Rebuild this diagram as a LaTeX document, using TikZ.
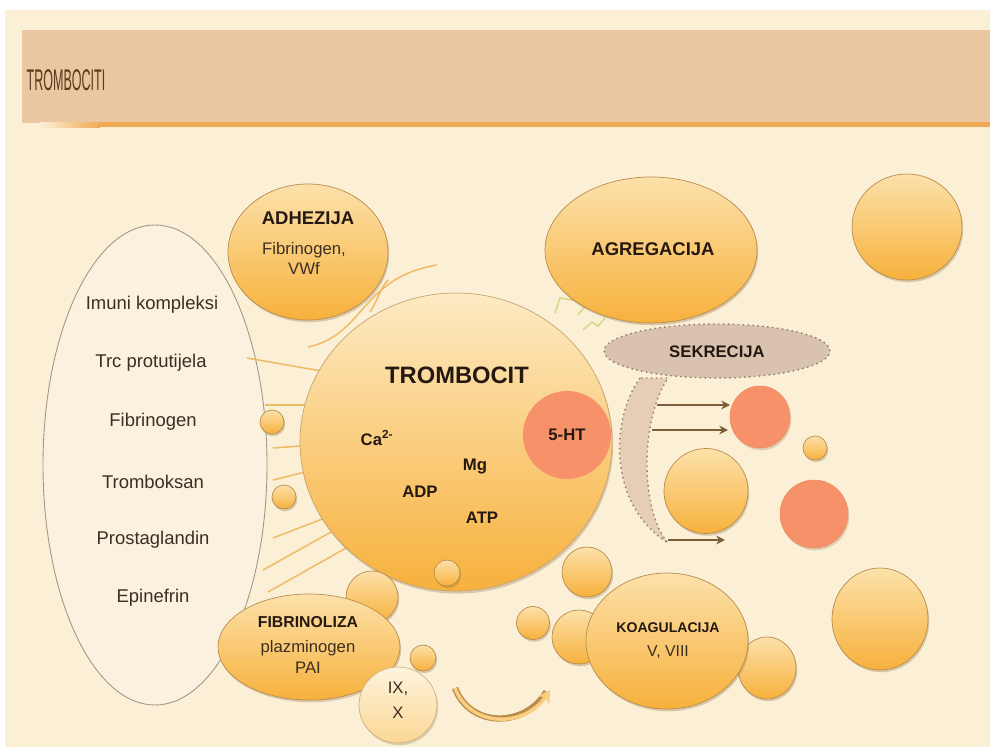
\documentclass[tikz,border=0pt]{standalone}
\usepackage{fontspec}
\setmainfont{Liberation Sans}
\usetikzlibrary{shapes.geometric,shadows,arrows.meta}

\definecolor{bgcream}{HTML}{FBF0D6}
\definecolor{headbar}{HTML}{EAC7A0}
\definecolor{headline}{HTML}{EFA955}
\definecolor{titlec}{HTML}{5A3A1C}
\definecolor{orbtop}{HTML}{FCE1AA}
\definecolor{orbbot}{HTML}{F7B13C}
\definecolor{orbline}{HTML}{B98C4E}
\definecolor{shadowc}{HTML}{8A6A40}
\definecolor{salmon}{HTML}{F7916A}
\definecolor{sekc}{HTML}{D9C3AE}
\definecolor{crescc}{HTML}{E6CDB6}
\definecolor{sekline}{HTML}{8C7A6A}
\definecolor{palec}{HTML}{FAF2DF}
\definecolor{rayc}{HTML}{EFBC68}
\definecolor{zigc}{HTML}{D6D88A}
\definecolor{ink}{HTML}{241810}
\definecolor{softink}{HTML}{3B2E22}

\begin{document}
\begin{tikzpicture}[x=0.2mm,y=-0.2mm,
  sz/.style 2 args={minimum width=#1*0.2mm,minimum height=#2*0.2mm},
  orb/.style={ellipse,inner sep=0pt,draw=orbline,line width=0.4pt,
    top color=orbtop,bottom color=orbbot,
    drop shadow={opacity=0.3,shadow xshift=0.7pt,shadow yshift=-1.3pt,fill=shadowc}},
  hot/.style={ellipse,inner sep=0pt,draw=salmon!80!brown,line width=0.3pt,fill=salmon,
    drop shadow={opacity=0.25,shadow xshift=0.7pt,shadow yshift=-1.3pt,fill=shadowc}},
  head/.style={font=\fontsize{10.5}{12}\selectfont\bfseries,text=ink,inner sep=1pt},
  small/.style={font=\fontsize{8}{10}\selectfont\bfseries,text=ink,inner sep=1pt},
  txt/.style={font=\fontsize{9.5}{11}\selectfont,text=softink,inner sep=1pt},
  item/.style={font=\fontsize{10.5}{12}\selectfont,text=softink,inner sep=1pt},
  ray/.style={draw=rayc,line width=0.9pt},
  zig/.style={draw=zigc,line width=0.9pt}]

  \useasboundingbox (0,0) rectangle (990,747);
  \fill[white] (0,0) rectangle (990,747);
  \fill[bgcream] (5,10) rectangle (990,747);

  % header
  \fill[headbar] (22,30) rectangle (990,123);
  \shade[left color=bgcream,right color=headline] (40,122) rectangle (100,127);
  \fill[headline] (100,122) rectangle (990,127);
  \node[font=\fontsize{17}{19}\selectfont,text=titlec,xscale=0.42] at (66,80) (title) {TROMBOCITI};

  % left list
  \node[ellipse,inner sep=0pt,sz={224}{480},fill=palec,draw=sekline!80,line width=0.5pt] at (155,465) (list) {};
  \node[item] at (152,305) (l1) {Imuni kompleksi};
  \node[item] at (151,363) (l2) {Trc protutijela};
  \node[item] at (153,422) (l3) {Fibrinogen};
  \node[item] at (153,482) (l4) {Tromboksan};
  \node[item] at (153,540) (l5) {Prostaglandin};
  \node[item] at (153,598) (l6) {Epinefrin};

  % rays towards the platelet
  \draw[ray] (247,358) -- (333,373);
  \draw[ray] (265,405) -- (327,405);
  \draw[ray] (273,448) -- (313,445);
  \draw[ray] (273,480) -- (313,470);
  \draw[ray] (273,538) -- (325,518);
  \draw[ray] (263,570) -- (340,527);
  \draw[ray] (268,592) -- (355,543);
  \draw[ray] (308,347) .. controls (365,335) and (360,278) .. (437,265);
  \draw[ray] (370,312) .. controls (378,300) and (380,288) .. (388,280);

  % zigzags
  \draw[zig] (555,313) -- (560,298) -- (572,300) -- (580,292);
  \draw[zig] (578,315) -- (586,305) -- (592,310) -- (600,298);
  \draw[zig] (583,330) -- (592,322) -- (598,326) -- (605,318);
  \draw[zig] (590,288) -- (598,278) -- (604,283);

  % big circles
  \node[orb,sz={160}{136}] at (308,252) (adh) {};
  \node[head] at (308,218) (adhT) {ADHEZIJA};
  \node[txt] at (304,250) (adh1) {Fibrinogen,};
  \node[txt] at (304,268) (adh2) {VWf};

  \node[orb,sz={212}{146}] at (651,250) (agr) {};
  \node[head] at (653,249) (agrT) {AGREGACIJA};

  \node[orb,sz={110}{106}] at (907,227) (tr1) {};

  \node[orb,sz={24}{24}] at (272,422) (d1) {};
  \node[orb,sz={24}{24}] at (284,497) (d2) {};

  \node[ellipse,inner sep=0pt,sz={312}{298},draw=orbline!80,line width=0.4pt,
    top color=orbtop!70!white,bottom color=orbbot,
    drop shadow={opacity=0.3,shadow xshift=0.7pt,shadow yshift=-1.5pt,fill=shadowc}] at (456,442) (trom) {};
  \node[circle,inner sep=0pt,sz={88}{88},fill=salmon] at (567,435) (ht) {};
  \node[font=\fontsize{13.5}{15}\selectfont\bfseries,text=ink] at (457,375) (tromT) {TROMBOCIT};
  \node[small,font=\fontsize{9.5}{11}\selectfont\bfseries] at (377,438) (ca) {Ca\textsuperscript{2-}};
  \node[small,font=\fontsize{9.5}{11}\selectfont\bfseries] at (475,467) (mg) {Mg};
  \node[small,font=\fontsize{9.5}{11}\selectfont\bfseries] at (420,492) (adp) {ADP};
  \node[small,font=\fontsize{9.5}{11}\selectfont\bfseries] at (482,518) (atp) {ATP};
  \node[small,font=\fontsize{9.5}{11}\selectfont\bfseries] at (567,435) (htT) {5-HT};
  \node[orb,sz={26}{26}] at (447,573) (d3) {};

  % secretion
  \fill[crescc,draw=sekline,dotted,line width=0.8pt]
    (640,378) .. controls (610,420) and (608,505) .. (668,543)
    .. controls (640,510) and (640,420) .. (668,378) -- cycle;
  \node[ellipse,inner sep=0pt,sz={226}{54},fill=sekc,draw=sekline,dotted,line width=0.8pt] at (717,351) (sek) {};
  \node[head,font=\fontsize{9.5}{11}\selectfont\bfseries] at (717,352) (sekT) {SEKRECIJA};

  \node[hot,sz={60}{62}] at (760,417) (sal1) {};
  \node[orb,sz={24}{24}] at (815,448) (d4) {};
  \node[hot,sz={68}{68}] at (814,514) (sal2) {};
  \node[orb,sz={84}{85}] at (706,491) (oc) {};

  \coordinate (a1) at (657,405);
  \coordinate (b1) at (730,405);
  \coordinate (a2) at (652,430);
  \coordinate (b2) at (728,430);
  \coordinate (a3) at (668,540);
  \coordinate (b3) at (725,540);
  \draw[-{Stealth[length=5pt,width=5pt]},draw=shadowc!90!black,line width=0.6pt] (a1) -- (b1);
  \draw[-{Stealth[length=5pt,width=5pt]},draw=shadowc!90!black,line width=0.6pt] (a2) -- (b2);
  \draw[-{Stealth[length=5pt,width=5pt]},draw=shadowc!90!black,line width=0.6pt] (a3) -- (b3);

  % bottom left
  \node[orb,sz={52}{52}] at (372,597) (fb) {};
  \node[orb,sz={182}{106}] at (309,647) (fib) {};
  \node[small,font=\fontsize{9}{10}\selectfont\bfseries] at (308,622) (fibT) {FIBRINOLIZA};
  \node[txt] at (308,648) (fib1) {plazminogen};
  \node[txt] at (308,668) (fib2) {PAI};
  \node[ellipse,inner sep=0pt,sz={78}{76},draw=orbline!70,line width=0.4pt,
    top color=orbtop!40!white,bottom color=orbtop!80!orbbot,
    drop shadow={opacity=0.25,shadow xshift=0.7pt,shadow yshift=-1.3pt,fill=shadowc}] at (398,705) (ix) {};
  \node[orb,sz={26}{26}] at (423,658) (d5) {};
  \node[txt] at (398,689) (ix1) {IX,};
  \node[txt] at (398,713) (ix2) {X};

  \coordinate (c1) at (455,688);
  \coordinate (c2) at (550,690);
  \draw[draw=orbline,line width=3.6pt] (c1) .. controls (470,728) and (525,728) .. ([xshift=-2pt,yshift=-1pt]c2);
  \draw[draw=orbtop!60!orbbot,line width=2pt,-{Stealth[length=7pt,width=8pt]}] (c1) .. controls (470,728) and (525,728) .. (c2);

  % coagulation
  \node[orb,sz={50}{50}] at (587,572) (cbr) {};
  \node[orb,sz={54}{54}] at (579,637) (km) {};
  \node[orb,sz={33}{33}] at (533,623) (ks) {};
  \node[orb,sz={58}{62}] at (767,668) (kr) {};
  \node[orb,sz={162}{136}] at (667,641) (koag) {};
  \node[small] at (668,628) (koagT) {KOAGULACIJA};
  \node[txt,font=\fontsize{9}{10}\selectfont] at (668,652) (koag1) {V, VIII};

  \node[orb,sz={96}{102}] at (880,619) (br) {};
\end{tikzpicture}
\end{document}
